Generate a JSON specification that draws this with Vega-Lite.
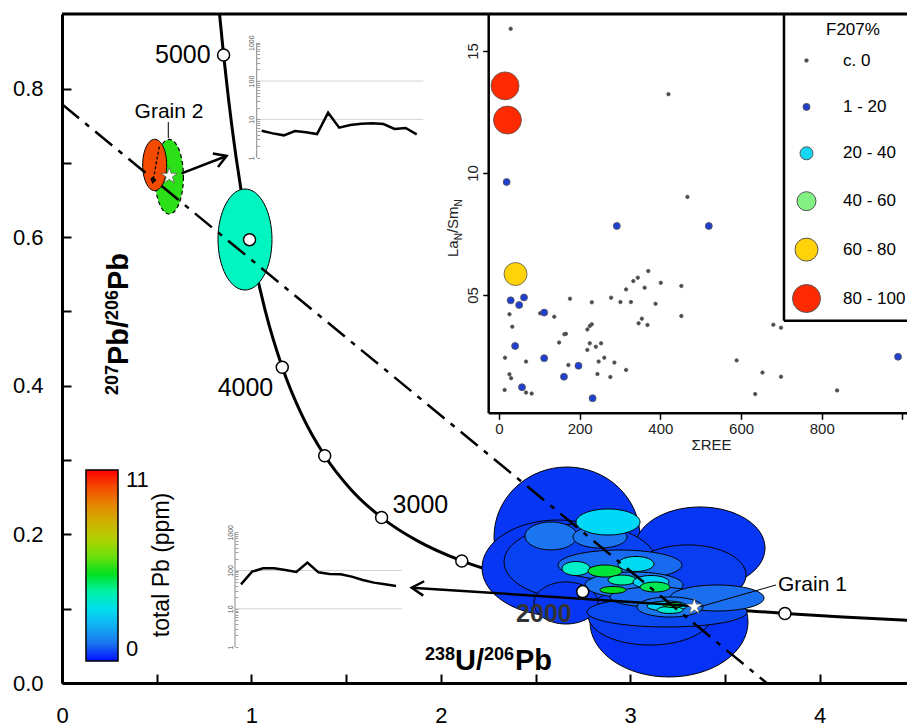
{
"$schema": "https://vega.github.io/schema/vega-lite/v6.json",
"width": 845, "height": 669,
"autosize": "none",
"padding": {"left": 62, "top": 14, "right": 0, "bottom": 44},
"background": "white",
"config": {"font": "Liberation Sans", "view": {"stroke": null}},
"datasets": {
"concordia": [
{"t":1250,"x":4.6733,"y":0.08219},{"t":1300,"x":4.4757,"y":0.08432},{"t":1400,"x":4.1225,"y":0.0888},{"t":1500,"x":3.8169,"y":0.0936},{"t":1750,"x":3.2063,"y":0.10706},{"t":2000,"x":2.7492,"y":0.12299},{"t":2250,"x":2.3942,"y":0.14186},{"t":2500,"x":2.1108,"y":0.16426},{"t":2750,"x":1.8796,"y":0.19091},{"t":3000,"x":1.6874,"y":0.22265},{"t":3250,"x":1.5253,"y":0.26053},{"t":3500,"x":1.387,"y":0.30587},{"t":3750,"x":1.2674,"y":0.36007},{"t":4000,"x":1.163,"y":0.42501},{"t":4250,"x":1.0713,"y":0.50297},{"t":4500,"x":0.9902,"y":0.5967},{"t":4750,"x":0.918,"y":0.70944},{"t":4900,"x":0.8783,"y":0.78787},{"t":5000,"x":0.8532,"y":0.8452},{"t":5100,"x":0.8292,"y":0.9071},{"t":5200,"x":0.8062,"y":0.97382}
],
"discordia": [{"x":0,"y":0.779},{"x":3.72,"y":0}],
"ellipses": [
{"id":"A","x":2.6663,"y":0.1965,"sx":0.3854,"sy":0.0942,"pb":0.35},
{"id":"D","x":3.3685,"y":0.1817,"sx":0.3432,"sy":0.0552,"pb":0.35},
{"id":"E","x":3.2048,"y":0.0821,"sx":0.4171,"sy":0.074,"pb":0.3},
{"id":"B","x":2.6188,"y":0.1548,"sx":0.4013,"sy":0.0646,"pb":0.35},
{"id":"B2","x":2.735,"y":0.1629,"sx":0.4013,"sy":0.0511,"pb":0.45},
{"id":"D2","x":3.3052,"y":0.1454,"sx":0.3062,"sy":0.0404,"pb":0.4},
{"id":"E2","x":3.1045,"y":0.0915,"sx":0.3273,"sy":0.0404,"pb":0.4},
{"id":"C","x":2.661,"y":0.1077,"sx":0.169,"sy":0.0283,"pb":0.35},
{"id":"U","x":3.1943,"y":0.0956,"sx":0.4224,"sy":0.0202,"pb":0.5},
{"id":"F","x":2.5818,"y":0.1979,"sx":0.1373,"sy":0.0188,"pb":1.0},
{"id":"F2","x":2.8405,"y":0.1965,"sx":0.1426,"sy":0.0148,"pb":1.0},
{"id":"G","x":2.8828,"y":0.2167,"sx":0.169,"sy":0.0175,"pb":2.8},
{"id":"I","x":2.9461,"y":0.1588,"sx":0.3273,"sy":0.0202,"pb":0.9},
{"id":"Q","x":3.0201,"y":0.1319,"sx":0.2587,"sy":0.0175,"pb":1.0},
{"id":"R","x":3.1309,"y":0.1158,"sx":0.2376,"sy":0.0135,"pb":0.9},
{"id":"S","x":3.4583,"y":0.1144,"sx":0.2482,"sy":0.0175,"pb":0.95},
{"id":"J","x":2.7138,"y":0.1541,"sx":0.0739,"sy":0.0094,"pb":3.6},
{"id":"K","x":2.8669,"y":0.1507,"sx":0.0898,"sy":0.0081,"pb":4.8},
{"id":"L","x":3.0306,"y":0.1602,"sx":0.095,"sy":0.0101,"pb":2.9},
{"id":"M","x":2.9567,"y":0.1386,"sx":0.0739,"sy":0.0067,"pb":4.0},
{"id":"N","x":3.1098,"y":0.1359,"sx":0.095,"sy":0.0088,"pb":2.7},
{"id":"O","x":3.1309,"y":0.1292,"sx":0.0792,"sy":0.0067,"pb":4.6},
{"id":"P","x":2.9092,"y":0.1252,"sx":0.0686,"sy":0.0047,"pb":5.0},
{"id":"T1","x":3.2101,"y":0.1023,"sx":0.1742,"sy":0.0135,"pb":1.0},
{"id":"T2","x":3.1943,"y":0.1036,"sx":0.1056,"sy":0.0067,"pb":2.8},
{"id":"T4","x":3.2101,"y":0.0983,"sx":0.0686,"sy":0.0047,"pb":3.5},
{"id":"T3","x":3.226,"y":0.105,"sx":0.0528,"sy":0.0034,"pb":4.8},
{"id":"teal","x":0.9662,"y":0.5969,"sx":0.1426,"sy":0.068,"pb":3.8},
{"id":"g2a","x":0.4894,"y":0.6972,"sx":0.0634,"sy":0.0346,"pb":10}
],
"grain2b": [{"id":"g2b","x":0.566,"y":0.6814,"sx":0.075,"sy":0.0502,"pb":5.4}],
"stars": [{"grain":"2","x":0.5665,"y":0.6824},{"grain":"1","x":3.3385,"y":0.1027}],
"ree_g2": [{"i":1,"v":5.06},{"i":2,"v":4.31},{"i":3,"v":3.83},{"i":4,"v":4.96},{"i":5,"v":4.58},{"i":6,"v":4.14},{"i":7,"v":14.9},{"i":8,"v":6.06},{"i":9,"v":7.11},{"i":10,"v":7.71},{"i":11,"v":7.86},{"i":12,"v":7.55},{"i":13,"v":5.6},{"i":14,"v":5.94},{"i":15,"v":4.06}],
"ree_g1": [{"i":1,"v":43.5},{"i":2,"v":93.4},{"i":3,"v":114},{"i":4,"v":114},{"i":5,"v":103},{"i":6,"v":91.5},{"i":7,"v":161},{"i":8,"v":89.8},{"i":9,"v":81.1},{"i":10,"v":79.6},{"i":11,"v":69.2},{"i":12,"v":56.5},{"i":13,"v":48.2},{"i":14,"v":43.5},{"i":15,"v":39.4}],
"f207": [
{"ree":29,"lasm":15.91,"f":"c. 0"},{"ree":420,"lasm":13.23,"f":"c. 0"},{"ree":467,"lasm":9.02,"f":"c. 0"},{"ree":370,"lasm":5.98,"f":"c. 0"},{"ree":344,"lasm":5.71,"f":"c. 0"},{"ree":333,"lasm":5.57,"f":"c. 0"},{"ree":401,"lasm":5.5,"f":"c. 0"},{"ree":452,"lasm":5.37,"f":"c. 0"},{"ree":361,"lasm":5.3,"f":"c. 0"},{"ree":315,"lasm":5.23,"f":"c. 0"},{"ree":278,"lasm":4.89,"f":"c. 0"},{"ree":176,"lasm":4.85,"f":"c. 0"},{"ree":230,"lasm":4.7,"f":"c. 0"},{"ree":301,"lasm":4.71,"f":"c. 0"},{"ree":327,"lasm":4.71,"f":"c. 0"},{"ree":388,"lasm":4.64,"f":"c. 0"},{"ree":26,"lasm":4.21,"f":"c. 0"},{"ree":102,"lasm":4.25,"f":"c. 0"},{"ree":137,"lasm":4.11,"f":"c. 0"},{"ree":452,"lasm":4.14,"f":"c. 0"},{"ree":346,"lasm":3.84,"f":"c. 0"},{"ree":354,"lasm":4.03,"f":"c. 0"},{"ree":368,"lasm":3.77,"f":"c. 0"},{"ree":680,"lasm":3.78,"f":"c. 0"},{"ree":699,"lasm":3.66,"f":"c. 0"},{"ree":33,"lasm":3.7,"f":"c. 0"},{"ree":219,"lasm":3.59,"f":"c. 0"},{"ree":225,"lasm":3.73,"f":"c. 0"},{"ree":230,"lasm":3.8,"f":"c. 0"},{"ree":162,"lasm":3.39,"f":"c. 0"},{"ree":166,"lasm":3.41,"f":"c. 0"},{"ree":149,"lasm":3.05,"f":"c. 0"},{"ree":225,"lasm":3.02,"f":"c. 0"},{"ree":253,"lasm":3.02,"f":"c. 0"},{"ree":240,"lasm":2.88,"f":"c. 0"},{"ree":219,"lasm":2.75,"f":"c. 0"},{"ree":15,"lasm":2.43,"f":"c. 0"},{"ree":67,"lasm":2.27,"f":"c. 0"},{"ree":261,"lasm":2.43,"f":"c. 0"},{"ree":247,"lasm":2.27,"f":"c. 0"},{"ree":286,"lasm":2.23,"f":"c. 0"},{"ree":172,"lasm":2.13,"f":"c. 0"},{"ree":315,"lasm":1.93,"f":"c. 0"},{"ree":244,"lasm":1.76,"f":"c. 0"},{"ree":276,"lasm":1.64,"f":"c. 0"},{"ree":26,"lasm":1.75,"f":"c. 0"},{"ree":30,"lasm":1.59,"f":"c. 0"},{"ree":14,"lasm":1.11,"f":"c. 0"},{"ree":67,"lasm":1.0,"f":"c. 0"},{"ree":81,"lasm":0.96,"f":"c. 0"},{"ree":589,"lasm":2.32,"f":"c. 0"},{"ree":653,"lasm":1.82,"f":"c. 0"},{"ree":699,"lasm":1.65,"f":"c. 0"},{"ree":635,"lasm":0.94,"f":"c. 0"},{"ree":838,"lasm":1.09,"f":"c. 0"},
{"ree":19,"lasm":9.63,"f":"1 - 20"},{"ree":292,"lasm":7.83,"f":"1 - 20"},{"ree":520,"lasm":7.83,"f":"1 - 20"},{"ree":29,"lasm":4.78,"f":"1 - 20"},{"ree":50,"lasm":4.59,"f":"1 - 20"},{"ree":62,"lasm":4.9,"f":"1 - 20"},{"ree":40,"lasm":2.91,"f":"1 - 20"},{"ree":112,"lasm":2.41,"f":"1 - 20"},{"ree":112,"lasm":4.28,"f":"1 - 20"},{"ree":197,"lasm":2.1,"f":"1 - 20"},{"ree":161,"lasm":1.65,"f":"1 - 20"},{"ree":57,"lasm":1.22,"f":"1 - 20"},{"ree":232,"lasm":0.77,"f":"1 - 20"},{"ree":989,"lasm":2.47,"f":"1 - 20"},
{"ree":41,"lasm":5.86,"f":"60 - 80"},
{"ree":15,"lasm":13.57,"f":"80 - 100"},{"ree":21,"lasm":12.17,"f":"80 - 100"}
]
},
"layer": [
{
"layer": [
{"data":{"name":"concordia"},
 "mark":{"type":"line","color":"black","strokeWidth":3,"clip":true,"interpolate":"monotone"},
 "encoding":{
  "x":{"field":"x","type":"quantitative","scale":{"domain":[0,4.4614],"nice":false,"zero":false},
   "axis":{"orient":"bottom","values":[0,0.5,1,1.5,2,2.5,3,3.5,4],"labelExpr":"datum.value % 1 == 0 ? format(datum.value, 'd') : ''","title":null,"grid":false,"domainColor":"black","domainWidth":3,"tickColor":"black","tickWidth":2,"tickSize":-9,"labelFontSize":22,"labelColor":"black","labelPadding":31,"labelFlush":false,"labelOverlap":false,"labelFont":"Liberation Sans"}},
  "y":{"field":"y","type":"quantitative","scale":{"domain":[0,0.9004],"nice":false,"zero":false},
   "axis":{"orient":"left","values":[0,0.1,0.2,0.3,0.4,0.5,0.6,0.7,0.8],"labelExpr":"round(datum.value*10) % 2 == 0 ? format(datum.value, '.1f') : ''","title":null,"grid":false,"domainColor":"black","domainWidth":3,"tickColor":"black","tickWidth":2,"tickSize":-9,"labelFontSize":22,"labelColor":"black","labelPadding":28,"labelFlush":false,"labelOverlap":false,"labelFont":"Liberation Sans"}}
 }},
{"data":{"name":"grain2b"},
 "transform":[
  {"calculate":"datum.sx * 189.4","as":"rx"},
  {"calculate":"datum.sy * 743.0 / (datum.sx * 189.4)","as":"k"},
  {"calculate":"4 * datum.rx * datum.rx","as":"sz"},
  {"calculate":"'M 1 0 C 1 ' + (0.5523*datum.k) + ' 0.5523 ' + datum.k + ' 0 ' + datum.k + ' C -0.5523 ' + datum.k + ' -1 ' + (0.5523*datum.k) + ' -1 0 C -1 ' + (-0.5523*datum.k) + ' -0.5523 ' + (-datum.k) + ' 0 ' + (-datum.k) + ' C 0.5523 ' + (-datum.k) + ' 1 ' + (-0.5523*datum.k) + ' 1 0 Z'","as":"path"}
 ],
 "mark":{"type":"point","filled":true,"opacity":1,"stroke":"black","strokeWidth":1.2,"strokeDash":[4,3]},
 "encoding":{
  "x":{"field":"x","type":"quantitative"},
  "y":{"field":"y","type":"quantitative"},
  "shape":{"field":"path","type":"nominal","scale":null},
  "size":{"field":"sz","type":"quantitative","scale":null},
  "color":{"field":"pb","type":"quantitative","scale":{"type":"linear","domain":[0,0.5,1.2,2.8,3.8,5,6.5,8,9.5,11],"range":["#0010ff","#0a48f0","#2285f0","#00d8f8","#00f5c0","#00e020","#a0e000","#d0b000","#f07000","#ff0000"],"interpolate":"rgb"},
   "legend":{"title":null,"orient":"none","legendX":24,"legendY":456,"direction":"vertical","gradientLength":191,"gradientThickness":32,"gradientStrokeColor":"black","gradientStrokeWidth":1.5,"values":[0,11],"format":"d","labelFontSize":22,"labelColor":"black","labelOffset":8,"padding":0}}
 }},
{"data":{"name":"ellipses"},
 "transform":[
  {"calculate":"datum.sx * 189.4","as":"rx"},
  {"calculate":"datum.sy * 743.0 / (datum.sx * 189.4)","as":"k"},
  {"calculate":"4 * datum.rx * datum.rx","as":"sz"},
  {"calculate":"'M 1 0 C 1 ' + (0.5523*datum.k) + ' 0.5523 ' + datum.k + ' 0 ' + datum.k + ' C -0.5523 ' + datum.k + ' -1 ' + (0.5523*datum.k) + ' -1 0 C -1 ' + (-0.5523*datum.k) + ' -0.5523 ' + (-datum.k) + ' 0 ' + (-datum.k) + ' C 0.5523 ' + (-datum.k) + ' 1 ' + (-0.5523*datum.k) + ' 1 0 Z'","as":"path"}
 ],
 "mark":{"type":"point","filled":true,"opacity":1,"stroke":"black","strokeWidth":1},
 "encoding":{
  "x":{"field":"x","type":"quantitative"},
  "y":{"field":"y","type":"quantitative"},
  "shape":{"field":"path","type":"nominal","scale":null},
  "size":{"field":"sz","type":"quantitative","scale":null},
  "color":{"field":"pb","type":"quantitative","scale":{"type":"linear","domain":[0,0.5,1.2,2.8,3.8,5,6.5,8,9.5,11],"range":["#0010ff","#0a48f0","#2285f0","#00d8f8","#00f5c0","#00e020","#a0e000","#d0b000","#f07000","#ff0000"],"interpolate":"rgb"},
   "legend":{"title":null,"orient":"none","legendX":24,"legendY":456,"direction":"vertical","gradientLength":191,"gradientThickness":32,"gradientStrokeColor":"black","gradientStrokeWidth":1.5,"values":[0,11],"format":"d","labelFontSize":22,"labelColor":"black","labelOffset":8,"padding":0}}
 }},
{"data":{"name":"discordia"},
 "mark":{"type":"line","color":"black","strokeWidth":2.5,"strokeDash":[22,8,5,8],"clip":true},
 "encoding":{"x":{"field":"x","type":"quantitative"},"y":{"field":"y","type":"quantitative"}}},
{"data":{"name":"concordia"},
 "transform":[{"filter":"datum.t >= 1500 && datum.t <= 5000 && datum.t % 500 == 0"}],
 "mark":{"type":"point","filled":true,"fill":"white","stroke":"black","strokeWidth":1.5,"size":144,"opacity":1},
 "encoding":{"x":{"field":"x","type":"quantitative"},"y":{"field":"y","type":"quantitative"}}},
{"data":{"name":"concordia"},"transform":[{"filter":"datum.t == 5000"}],
 "mark":{"type":"text","fontSize":25,"align":"right","baseline":"middle","dx":-13,"color":"black"},
 "encoding":{"x":{"field":"x","type":"quantitative"},"y":{"field":"y","type":"quantitative"},"text":{"field":"t","type":"quantitative","format":"d"}}},
{"data":{"name":"concordia"},"transform":[{"filter":"datum.t == 4000"}],
 "mark":{"type":"text","fontSize":25,"align":"right","baseline":"middle","dx":-9,"dy":21,"color":"black"},
 "encoding":{"x":{"field":"x","type":"quantitative"},"y":{"field":"y","type":"quantitative"},"text":{"field":"t","type":"quantitative","format":"d"}}},
{"data":{"name":"concordia"},"transform":[{"filter":"datum.t == 3000"}],
 "mark":{"type":"text","fontSize":25,"align":"left","baseline":"middle","dx":11,"dy":-13,"color":"black"},
 "encoding":{"x":{"field":"x","type":"quantitative"},"y":{"field":"y","type":"quantitative"},"text":{"field":"t","type":"quantitative","format":"d"}}},
{"data":{"name":"concordia"},"transform":[{"filter":"datum.t == 2000"}],
 "mark":{"type":"text","fontSize":25,"fontWeight":"bold","align":"right","baseline":"middle","dx":-11,"dy":22,"color":"#333"},
 "encoding":{"x":{"field":"x","type":"quantitative"},"y":{"field":"y","type":"quantitative"},"text":{"field":"t","type":"quantitative","format":"d"}}},
{"data":{"values":[{}]},"mark":{"type":"rule","color":"black","strokeWidth":2.5},
 "encoding":{"x":{"datum":3.3263,"type":"quantitative"},"y":{"datum":0.1036,"type":"quantitative"},"x2":{"datum":1.8464},"y2":{"datum":0.1283}}},
{"data":{"values":[{}]},"mark":{"type":"point","shape":"M -1 -0.6 L 0 0 L -1 0.6","filled":false,"color":"black","strokeWidth":2.5,"size":576,"angle":183.7,"opacity":1},
 "encoding":{"x":{"datum":1.8464,"type":"quantitative"},"y":{"datum":0.1283,"type":"quantitative"}}},
{"data":{"values":[{}]},"mark":{"type":"rule","color":"black","strokeWidth":2.5},
 "encoding":{"x":{"datum":0.6315,"type":"quantitative"},"y":{"datum":0.686,"type":"quantitative"},"x2":{"datum":0.8691},"y2":{"datum":0.7093}}},
{"data":{"values":[{}]},"mark":{"type":"point","shape":"M -1 -0.6 L 0 0 L -1 0.6","filled":false,"color":"black","strokeWidth":2.5,"size":576,"angle":339,"opacity":1},
 "encoding":{"x":{"datum":0.8691,"type":"quantitative"},"y":{"datum":0.7093,"type":"quantitative"}}},
{"data":{"values":[{}]},"mark":{"type":"rule","color":"black","strokeWidth":1.3,"strokeDash":[3,2]},
 "encoding":{"x":{"datum":0.5137,"type":"quantitative"},"y":{"datum":0.7218,"type":"quantitative"},"x2":{"datum":0.4789},"y2":{"datum":0.6734}}},
{"data":{"values":[{}]},"mark":{"type":"point","shape":"M -1 -0.6 L 0 0 L -1 0.6","filled":false,"color":"black","strokeWidth":1.3,"size":64,"angle":100,"opacity":1},
 "encoding":{"x":{"datum":0.4789,"type":"quantitative"},"y":{"datum":0.6734,"type":"quantitative"}}},
{"data":{"name":"stars"},"mark":{"type":"point","shape":"M 0 -1 L 0.2245 -0.309 L 0.9511 -0.309 L 0.3633 0.118 L 0.5878 0.809 L 0 0.382 L -0.5878 0.809 L -0.3633 0.118 L -0.9511 -0.309 L -0.2245 -0.309 Z","filled":true,"fill":"white","stroke":"#555","strokeWidth":0.7,"size":289,"opacity":1},
 "encoding":{"x":{"field":"x","type":"quantitative"},"y":{"field":"y","type":"quantitative"}}},
{"data":{"values":[{}]},"mark":{"type":"text","text":"Grain 2","fontSize":21,"align":"center","baseline":"alphabetic","color":"black"},
 "encoding":{"x":{"datum":0.5649,"type":"quantitative"},"y":{"datum":0.7604,"type":"quantitative"}}},
{"data":{"values":[{}]},"mark":{"type":"rule","color":"black","strokeWidth":1},
 "encoding":{"x":{"datum":0.5612,"type":"quantitative"},"y":{"datum":0.755,"type":"quantitative"},"y2":{"datum":0.7335}}},
{"data":{"values":[{}]},"mark":{"type":"text","text":"Grain 1","fontSize":21,"align":"left","baseline":"alphabetic","color":"black"},
 "encoding":{"x":{"datum":3.7804,"type":"quantitative"},"y":{"datum":0.1238,"type":"quantitative"}}},
{"data":{"values":[{}]},"mark":{"type":"rule","color":"black","strokeWidth":1},
 "encoding":{"x":{"datum":3.7698,"type":"quantitative"},"y":{"datum":0.1319,"type":"quantitative"},"x2":{"datum":3.3685},"y2":{"datum":0.1027}}},
{"data":{"values":[{}]},"mark":{"type":"text","text":"total Pb (ppm)","fontSize":23,"align":"center","baseline":"middle","angle":270,"color":"black"},
 "encoding":{"x":{"datum":0.5264,"type":"quantitative"},"y":{"datum":0.1588,"type":"quantitative"}}},
{"data":{"values":[{}]},"mark":{"type":"text","text":"238","fontSize":18,"fontWeight":"bold","align":"left","baseline":"alphabetic","color":"black"},
 "encoding":{"x":{"datum":1.9166,"type":"quantitative"},"y":{"datum":0.0316,"type":"quantitative"}}},
{"data":{"values":[{}]},"mark":{"type":"text","text":"U/","fontSize":29,"fontWeight":"bold","align":"left","baseline":"alphabetic","color":"black"},
 "encoding":{"x":{"datum":2.075,"type":"quantitative"},"y":{"datum":0.0175,"type":"quantitative"}}},
{"data":{"values":[{}]},"mark":{"type":"text","text":"206","fontSize":18,"fontWeight":"bold","align":"left","baseline":"alphabetic","color":"black"},
 "encoding":{"x":{"datum":2.2281,"type":"quantitative"},"y":{"datum":0.0316,"type":"quantitative"}}},
{"data":{"values":[{}]},"mark":{"type":"text","text":"Pb","fontSize":29,"fontWeight":"bold","align":"left","baseline":"alphabetic","color":"black"},
 "encoding":{"x":{"datum":2.3918,"type":"quantitative"},"y":{"datum":0.0175,"type":"quantitative"}}},
{"data":{"values":[{}]},"mark":{"type":"text","text":"207","fontSize":18,"fontWeight":"bold","align":"left","baseline":"alphabetic","angle":270,"color":"black"},
 "encoding":{"x":{"datum":0.2957,"type":"quantitative"},"y":{"datum":0.3876,"type":"quantitative"}}},
{"data":{"values":[{}]},"mark":{"type":"text","text":"Pb/","fontSize":29,"fontWeight":"bold","align":"left","baseline":"alphabetic","angle":270,"color":"black"},
 "encoding":{"x":{"datum":0.3485,"type":"quantitative"},"y":{"datum":0.428,"type":"quantitative"}}},
{"data":{"values":[{}]},"mark":{"type":"text","text":"206","fontSize":18,"fontWeight":"bold","align":"left","baseline":"alphabetic","angle":270,"color":"black"},
 "encoding":{"x":{"datum":0.2957,"type":"quantitative"},"y":{"datum":0.4886,"type":"quantitative"}}},
{"data":{"values":[{}]},"mark":{"type":"text","text":"Pb","fontSize":29,"fontWeight":"bold","align":"left","baseline":"alphabetic","angle":270,"color":"black"},
 "encoding":{"x":{"datum":0.3485,"type":"quantitative"},"y":{"datum":0.5289,"type":"quantitative"}}},
{"data":{"values":[{}]},"mark":{"type":"rule","color":"black","strokeWidth":3},
 "encoding":{"x":{"datum":0,"type":"quantitative"},"x2":{"datum":4.4614},"y":{"datum":0.9004,"type":"quantitative"}}}
]
},
{
"layer": [
{"data":{"values":[{"g":10},{"g":100}]},"mark":{"type":"rule","color":"#c8c8c8","strokeWidth":0.8},
 "encoding":{
  "y":{"field":"g","type":"quantitative","scale":{"type":"log","domain":[1.97e-14,5610],"nice":false},
   "axis":{"orient":"left","offset":-194.7,"values":[1,2,3,4,5,6,7,8,9,10,20,30,40,50,60,70,80,90,100,200,300,400,500,600,700,800,900,1000],"format":"d","labelExpr":"(datum.value == 1 || datum.value == 10 || datum.value == 100 || datum.value == 1000) ? datum.label : ''","domain":false,"grid":false,"title":null,"tickSize":-3,"tickColor":"#888","tickWidth":0.8,"labelFontSize":7,"labelColor":"#555","labelAngle":270,"labelAlign":"center","labelBaseline":"bottom","labelPadding":5,"labelFlush":false,"labelOverlap":false,"zindex":1}},
  "x":{"datum":0.548,"type":"quantitative","scale":{"domain":[-17.038,59.287],"nice":false,"zero":false},"axis":null},
  "x2":{"datum":15.6}
 }},
{"data":{"values":[{}]},"mark":{"type":"rule","color":"#888","strokeWidth":1},
 "encoding":{"x":{"datum":0.548,"type":"quantitative","axis":null},"y":{"datum":1,"type":"quantitative"},"y2":{"datum":1000}}},
{"data":{"name":"ree_g2"},"mark":{"type":"line","color":"black","strokeWidth":2.5},
 "encoding":{"x":{"field":"i","type":"quantitative","axis":null},"y":{"field":"v","type":"quantitative"}}}
]
},
{
"layer": [
{"data":{"values":[{"g":10},{"g":100}]},"mark":{"type":"rule","color":"#c8c8c8","strokeWidth":0.8},
 "encoding":{
  "y":{"field":"g","type":"quantitative","scale":{"type":"log","domain":[0.1143,3.61e16],"nice":false},
   "axis":{"orient":"left","offset":-173,"values":[1,2,3,4,5,6,7,8,9,10,20,30,40,50,60,70,80,90,100,200,300,400,500,600,700,800,900,1000],"format":"d","labelExpr":"(datum.value == 1 || datum.value == 10 || datum.value == 100 || datum.value == 1000) ? datum.label : ''","domain":false,"grid":false,"title":null,"tickSize":-3,"tickColor":"#888","tickWidth":0.8,"labelFontSize":7,"labelColor":"#555","labelAngle":270,"labelAlign":"center","labelBaseline":"bottom","labelPadding":5,"labelFlush":false,"labelOverlap":false,"zindex":1}},
  "x":{"datum":0.458,"type":"quantitative","scale":{"domain":[-15.168,61.157],"nice":false,"zero":false},"axis":null},
  "x2":{"datum":15.52}
 }},
{"data":{"values":[{}]},"mark":{"type":"rule","color":"#888","strokeWidth":1},
 "encoding":{"x":{"datum":0.458,"type":"quantitative","axis":null},"y":{"datum":1,"type":"quantitative"},"y2":{"datum":1000}}},
{"data":{"name":"ree_g1"},"mark":{"type":"line","color":"black","strokeWidth":2.5},
 "encoding":{"x":{"field":"i","type":"quantitative","axis":null},"y":{"field":"v","type":"quantitative"}}}
]
},
{
"layer": [
{"data":{"name":"f207"},"mark":{"type":"point","filled":true,"opacity":1,"stroke":"#555","strokeWidth":0.8},
 "encoding":{
  "x":{"field":"ree","type":"quantitative","scale":{"domain":[-1083,1011.2],"nice":false,"zero":false},
   "axis":{"orient":"bottom","offset":-269.7,"values":[0,200,400,600,800,1000],"format":"d","labelExpr":"datum.value >= 1000 ? '' : datum.label","domain":false,"grid":false,"tickSize":6,"tickColor":"black","tickWidth":1.5,"labelFontSize":15,"labelColor":"#222","labelPadding":2,"labelFlush":false,"labelOverlap":false,"title":"ΣREE","titleFontSize":15,"titleFontWeight":"normal","titleColor":"#222","titleX":649,"titleY":31,"titleBaseline":"middle","titleAlign":"center","zindex":1}},
  "y":{"field":"lasm","type":"quantitative","scale":{"domain":[-10.902,16.516],"nice":false,"zero":false},
   "axis":{"orient":"left","offset":-426.7,"values":[5,10,15],"labelExpr":"datum.value == 5 ? '05' : datum.label","domain":false,"grid":false,"title":null,"tickSize":6,"tickColor":"black","tickWidth":1.5,"labelFontSize":15,"labelColor":"#222","labelAngle":270,"labelAlign":"center","labelBaseline":"bottom","labelPadding":2,"labelFlush":false,"labelOverlap":false,"zindex":1}},
  "color":{"field":"f","type":"ordinal","scale":{"type":"ordinal","domain":["c. 0","1 - 20","20 - 40","40 - 60","60 - 80","80 - 100"],"range":["#4a4a4a","#1f3fd1","#12d6f2","#82f082","#ffd20a","#ff2a00"]},
   "legend":{"title":null,"orient":"none","legendX":722,"legendY":30,"padding":8,"gridAlign":"all","labelFontSize":17,"labelColor":"black","labelOffset":22,"rowPadding":13.4,"symbolStrokeColor":"#555","symbolStrokeWidth":1,"symbolType":"circle","symbolOpacity":1}},
  "size":{"field":"f","type":"ordinal","scale":{"type":"ordinal","domain":["c. 0","1 - 20","20 - 40","40 - 60","60 - 80","80 - 100"],"range":[12,49,169,361,529,784]}}
 }},
{"data":{"values":[{}]},"mark":{"type":"rule","color":"black","strokeWidth":2.5},
 "encoding":{"x":{"datum":-25.5,"type":"quantitative"},"y":{"datum":0.152,"type":"quantitative"},"y2":{"datum":16.516}}},
{"data":{"values":[{}]},"mark":{"type":"rule","color":"black","strokeWidth":2.5},
 "encoding":{"x":{"datum":-25.5,"type":"quantitative"},"x2":{"datum":1011.2},"y":{"datum":0.152,"type":"quantitative"}}},
{"data":{"values":[{}]},"mark":{"type":"rule","color":"black","strokeWidth":2.5},
 "encoding":{"x":{"datum":706.3,"type":"quantitative"},"y":{"datum":3.947,"type":"quantitative"},"y2":{"datum":16.516}}},
{"data":{"values":[{}]},"mark":{"type":"rule","color":"black","strokeWidth":2.5},
 "encoding":{"x":{"datum":706.3,"type":"quantitative"},"x2":{"datum":1011.2},"y":{"datum":3.947,"type":"quantitative"}}},
{"data":{"values":[{}]},"mark":{"type":"text","text":"F207%","fontSize":17,"align":"center","baseline":"middle","color":"black"},
 "encoding":{"x":{"datum":877.3,"type":"quantitative"},"y":{"datum":15.861,"type":"quantitative"}}},
{"data":{"values":[{}]},"mark":{"type":"text","text":"La","fontSize":15,"align":"left","baseline":"alphabetic","angle":270,"color":"#222"},
 "encoding":{"x":{"datum":-101.6,"type":"quantitative"},"y":{"datum":6.557,"type":"quantitative"}}},
{"data":{"values":[{}]},"mark":{"type":"text","text":"N","fontSize":10,"align":"left","baseline":"alphabetic","angle":270,"color":"#222"},
 "encoding":{"x":{"datum":-91.7,"type":"quantitative"},"y":{"datum":7.242,"type":"quantitative"}}},
{"data":{"values":[{}]},"mark":{"type":"text","text":"/Sm","fontSize":15,"align":"left","baseline":"alphabetic","angle":270,"color":"#222"},
 "encoding":{"x":{"datum":-101.6,"type":"quantitative"},"y":{"datum":7.537,"type":"quantitative"}}},
{"data":{"values":[{}]},"mark":{"type":"text","text":"N","fontSize":10,"align":"left","baseline":"alphabetic","angle":270,"color":"#222"},
 "encoding":{"x":{"datum":-91.7,"type":"quantitative"},"y":{"datum":8.631,"type":"quantitative"}}}
]
}
],
"resolve": {"scale": {"x":"independent","y":"independent","color":"independent","size":"independent","shape":"independent"}}
}
